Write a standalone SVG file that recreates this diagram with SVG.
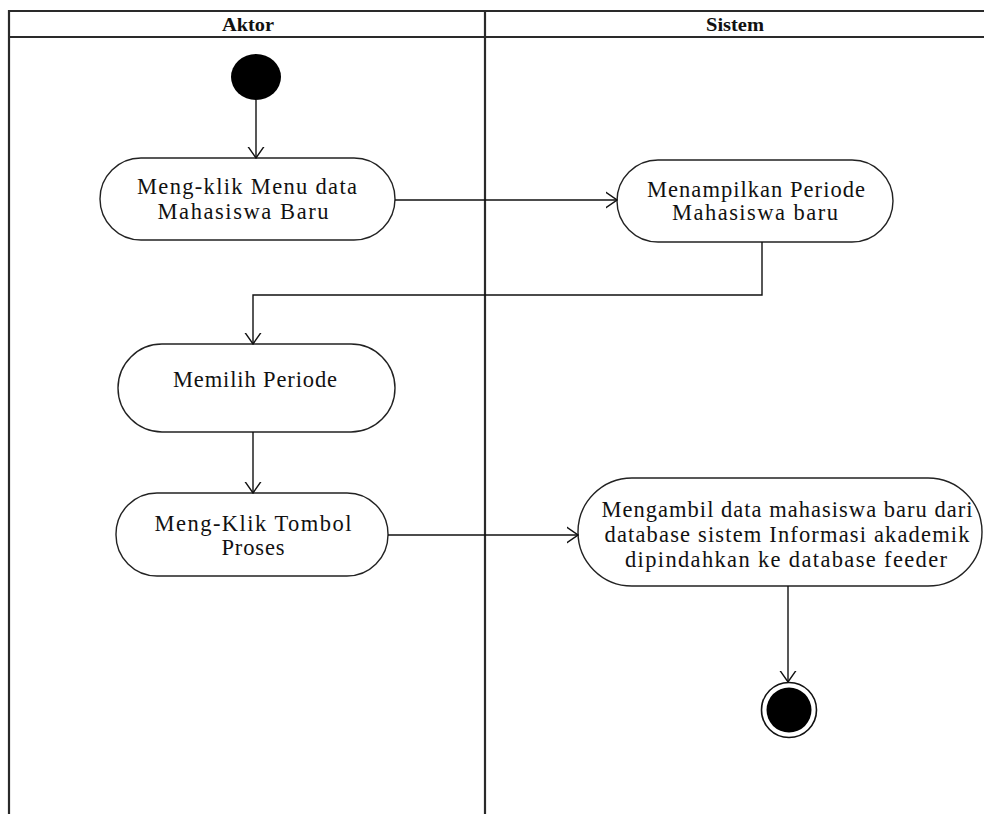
<svg xmlns="http://www.w3.org/2000/svg" width="984" height="814" viewBox="0 0 984 814">
<style>
.lane{stroke:#2a2a2a;stroke-width:2.2;fill:none}
.node{fill:#fff;stroke:#222;stroke-width:1.4}
.t{font-family:"Liberation Serif","Times New Roman",serif;font-size:22.5px;fill:#111;text-anchor:middle}
.h{font-family:"Liberation Serif","Times New Roman",serif;font-size:18px;font-weight:bold;fill:#111;text-anchor:middle}
.c{stroke:#111;stroke-width:1.4;fill:none}
</style>
<defs>
<marker id="arr" markerUnits="userSpaceOnUse" viewBox="0 0 12 18" markerWidth="12" markerHeight="18" refX="11.5" refY="9" orient="auto">
<path d="M0,1 L11.5,9 L0,17" fill="none" stroke="#111" stroke-width="1.4"/>
</marker>
</defs>
<rect width="984" height="814" fill="#fff"/>
<g id="swimlanes">
<line class="lane" x1="9" y1="11" x2="984" y2="11"/>
<line class="lane" x1="9" y1="37" x2="984" y2="37"/>
<line class="lane" x1="9" y1="10" x2="9" y2="814"/>
<line class="lane" x1="485" y1="11" x2="485" y2="814"/>
<text class="h" x="248" y="31" textLength="52" lengthAdjust="spacingAndGlyphs">Aktor</text>
<text class="h" x="735" y="31" textLength="58" lengthAdjust="spacingAndGlyphs">Sistem</text>
</g>
<g id="start">
<ellipse cx="256" cy="77" rx="25" ry="23" fill="#000"/>
</g>
<g id="n1">
<rect class="node" x="100" y="158" width="295" height="82" rx="41" ry="41"/>
<text class="t" x="247" y="194" textLength="220" lengthAdjust="spacing">Meng-klik  Menu data</text>
<text class="t" x="243" y="219" textLength="171" lengthAdjust="spacing">Mahasiswa Baru</text>
</g>
<g id="n2">
<rect class="node" x="617" y="160" width="276" height="82" rx="41" ry="41"/>
<text class="t" x="756" y="197" textLength="218" lengthAdjust="spacing">Menampilkan Periode</text>
<text class="t" x="755" y="220" textLength="166" lengthAdjust="spacing">Mahasiswa baru</text>
</g>
<g id="n3">
<rect class="node" x="118" y="344" width="277" height="88" rx="44" ry="44"/>
<text class="t" x="255" y="387" textLength="164" lengthAdjust="spacing">Memilih Periode</text>
</g>
<g id="n4">
<rect class="node" x="116" y="493" width="272" height="83" rx="41" ry="41"/>
<text class="t" x="253" y="531" textLength="197" lengthAdjust="spacing">Meng-Klik  Tombol</text>
<text class="t" x="253" y="555" textLength="63" lengthAdjust="spacing">Proses</text>
</g>
<g id="n5">
<rect class="node" x="578" y="478" width="404" height="108" rx="54" ry="54"/>
<text class="t" x="787" y="517" textLength="371" lengthAdjust="spacing">Mengambil data mahasiswa baru dari</text>
<text class="t" x="787" y="542" textLength="365" lengthAdjust="spacing">database sistem Informasi akademik</text>
<text class="t" x="786" y="567" textLength="322" lengthAdjust="spacing">dipindahkan ke database feeder</text>
</g>
<g id="end">
<circle cx="789" cy="710" r="27.5" fill="#fff" stroke="#111" stroke-width="1.6"/>
<circle cx="789" cy="710" r="22.5" fill="#000"/>
</g>
<g id="connectors">
<line class="c" x1="256" y1="100" x2="256" y2="158" marker-end="url(#arr)"/>
<line class="c" x1="395" y1="200" x2="617" y2="200" marker-end="url(#arr)"/>
<polyline class="c" points="762,242 762,295 253,295 253,344" marker-end="url(#arr)"/>
<line class="c" x1="253" y1="432" x2="253" y2="493" marker-end="url(#arr)"/>
<line class="c" x1="388" y1="535" x2="578" y2="535" marker-end="url(#arr)"/>
<line class="c" x1="788" y1="586" x2="788" y2="682" marker-end="url(#arr)"/>
</g>
</svg>
